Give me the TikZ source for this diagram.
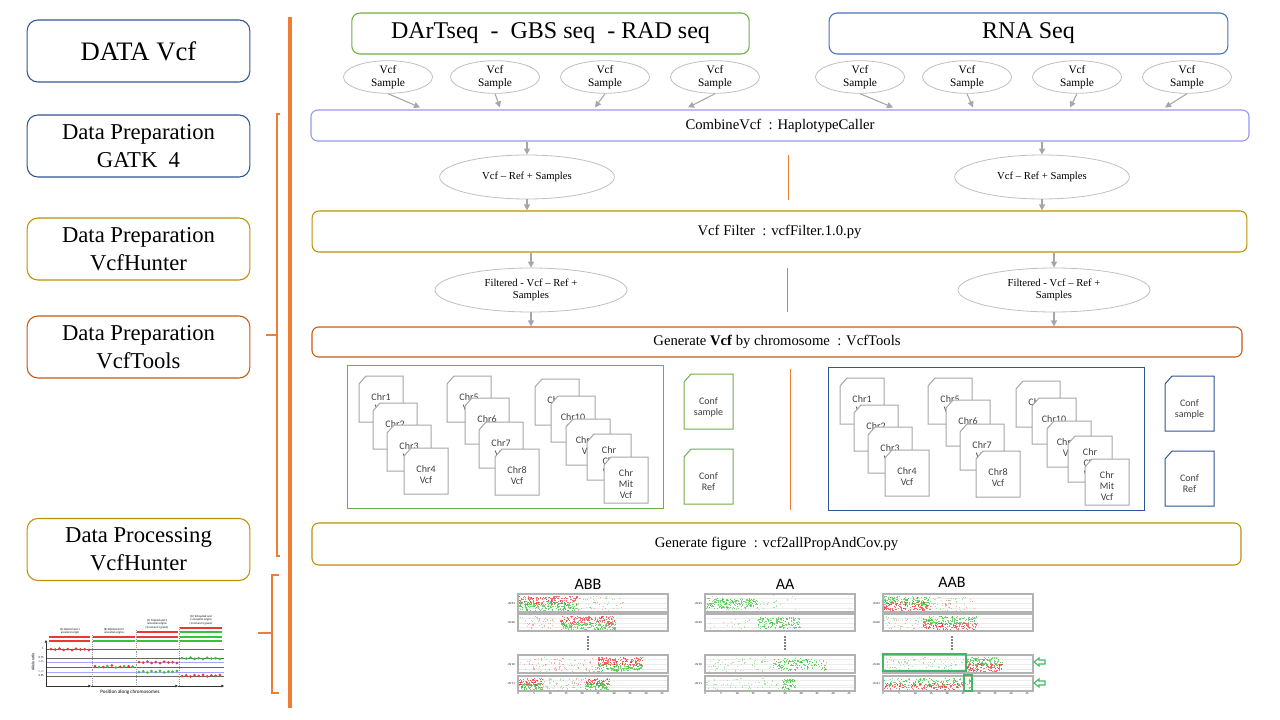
\documentclass[tikz,border=0pt]{standalone}
\usepackage{fontspec}
\setmainfont{Liberation Serif}
\newfontfamily\calib{Carlito}
\usetikzlibrary{shapes.geometric,arrows.meta,calc}
\definecolor{blueD}{HTML}{2F5597}
\definecolor{blueL}{HTML}{4472C4}
\definecolor{goldB}{HTML}{BF9000}
\definecolor{orangeB}{HTML}{C55A11}
\definecolor{orangeL}{HTML}{ED7D31}
\definecolor{greenP}{HTML}{70AD47}
\definecolor{lilac}{RGB}{150,150,245}
\definecolor{grayA}{HTML}{A6A6A6}
\definecolor{grayE}{HTML}{BFBFBF}
\definecolor{dotR}{RGB}{235,55,55}
\definecolor{dotG}{RGB}{55,195,55}
\definecolor{hlgreen}{RGB}{70,180,100}

% random points in a box
\newcommand{\spray}[6]{%
  \foreach \k in {1,...,#6}{%
    \pgfmathsetmacro\sx{#1+rnd*(#2-#1)}%
    \pgfmathsetmacro\sy{#3+rnd*(#4-#3)}%
    \fill[#5, opacity=0.7] (\sx,\sy) rectangle ++(1.1,1.1);
    \pgfmathsetmacro\sx{#1+rnd*(#2-#1)}%
    \pgfmathsetmacro\sy{#3+rnd*(#4-#3)}%
    \fill[#5, opacity=0.7] (\sx,\sy) rectangle ++(1.1,1.1);}}

\begin{document}
\begin{tikzpicture}[x=0.75pt, y=-0.75pt,
    stage/.style={draw, line width=0.8pt, rounded corners=8pt, minimum width=167pt, minimum height=46.5pt, align=center, inner sep=0pt, font=\fontsize{17}{21}\selectfont},
    source/.style={draw, line width=0.8pt, rounded corners=6pt, minimum width=298pt, minimum height=30.75pt, inner sep=0pt, font=\fontsize{18}{20}\selectfont},
    sample/.style={ellipse, draw=grayE, line width=0.6pt, minimum width=66.75pt, minimum height=24pt, inner sep=0pt, align=center, font=\fontsize{8.5}{9.5}\selectfont},
    merged/.style={sample, minimum width=131pt, minimum height=33pt, font=\fontsize{8}{9.5}\selectfont},
    filtered/.style={merged, minimum width=144pt},
    toolbox/.style={draw, line width=0.8pt, rounded corners=5pt, inner sep=0pt, font=\fontsize{11}{13}\selectfont},
    arr/.style={draw=grayA, line width=0.8pt, -{Triangle[length=4.5pt,width=4.5pt]}},
    chrfile/.style={draw=grayA, fill=white, line width=0.75pt},
    chrtext/.style={inner sep=0pt, align=center, text=black!75, font=\calib\fontsize{7.5}{8.3}\selectfont},
    panel/.style={draw, line width=0.8pt, minimum width=236.5pt, minimum height=107pt, inner sep=0pt},
    plotframe/.style={draw=black!30, line width=0.9pt},
    figtext/.style={inner sep=0pt, align=center, font=\calib\fontsize{2.2}{2.6}\selectfont},
    ptitle/.style={inner sep=0pt, font=\calib\fontsize{12}{14}\selectfont}]
\useasboundingbox (0,0) rectangle (1280,720);
\pgfmathsetseed{11}

% stages
\node[stage, draw=blueD, font=\fontsize{20}{22}\selectfont] (datavcf) at (138.5,51) {DATA Vcf};
\node[stage, draw=blueD] (gatk) at (138.5,146) {Data Preparation\\GATK~~4};
\node[stage, draw=goldB] (hunter) at (138.5,249) {Data Preparation\\VcfHunter};
\node[stage, draw=orangeB] (vcftools) at (138.5,347) {Data Preparation\\VcfTools};
\node[stage, draw=goldB] (processing) at (138.5,549.5) {Data Processing\\VcfHunter};

\draw[orangeL, line width=2.3pt] (290,17) -- (290,708);
\draw[orangeL, line width=1pt] (280,114) -- (277,114) -- (277,556) -- (280,556) (277,335) -- (266,335);
\draw[orangeL, line width=1pt] (279,575) -- (272,575) -- (272,693) -- (279,693) (272,633) -- (258,633);

% sources and samples
\node[source, draw=greenP] (dart) at (550.5,33.5) {DArTseq~~-~~GBS seq~~- RAD seq};
\node[source, draw=blueL, minimum width=299pt] (rna) at (1028.5,33.5) {RNA Seq};
\node[toolbox, draw=lilac, minimum width=703.5pt, minimum height=23.25pt] (combine) at (780,125.5) {CombineVcf~~: HaplotypeCaller};
\foreach \i/\x/\dx in {1/388/32, 2/495/5, 3/605/-10, 4/715/-27}{
  \node[sample] (ls\i) at (\x,77) {Vcf\\Sample};
  \draw[arr] (ls\i.south) -- ($(ls\i.south |- combine.north)+(\dx,-2)$);
}
\foreach \i/\x/\dx in {1/860/33, 2/967/6, 3/1077/-7, 4/1187/-22}{
  \node[sample] (rs\i) at (\x,77) {Vcf\\Sample};
  \draw[arr] (rs\i.south) -- ($(rs\i.south |- combine.north)+(\dx,-2)$);
}

% filtering
\node[merged] (lmerge) at (527,177) {Vcf – Ref + Samples};
\node[merged] (rmerge) at (1042,177) {Vcf – Ref + Samples};
\node[toolbox, draw=goldB, minimum width=701pt, minimum height=30.75pt] (filter) at (779.5,231.5) {Vcf Filter~~: vcfFilter.1.0.py};
\node[filtered] (lfilt) at (531,290) {Filtered - Vcf – Ref +\\Samples};
\node[filtered] (rfilt) at (1054,290) {Filtered - Vcf – Ref +\\Samples};
\node[toolbox, draw=orangeB, minimum width=697.5pt, minimum height=22.5pt] (bychr) at (777,342) {Generate \textbf{Vcf} by chromosome~~: VcfTools};
\node[toolbox, draw=goldB, minimum width=696.75pt, minimum height=31.5pt] (figure) at (776.5,544) {Generate figure~~: vcf2allPropAndCov.py};
\foreach \s in {l,r}{
  \draw[arr] (combine.south -| \s merge) -- (\s merge.north);
  \draw[arr] (\s merge.south) -- (filter.north -| \s merge.south);
  \draw[arr] (filter.south -| \s filt) -- (\s filt.north);
  \draw[arr] (\s filt.south) -- (bychr.north -| \s filt.south);
}
\draw[orangeL, line width=0.75pt] (788,155) -- (788,200) (787,268) -- (787,312) (790,369) -- (790,510);

% vcf by chromosome
\foreach \s/\dx/\dy/\c in {l/0/0/greenP, r/481/2/blueD}{
  \node[panel, draw=\c] (\s-panel) at (505.5+\dx,437+\dy) {};
  \foreach \n/\x/\y/\t [evaluate=\x as \px using \x+\dx, evaluate=\y as \py using \y+\dy] in
    {1/359/376/{Chr1\\Vcf}, 2/373/403/{Chr2\\Vcf}, 3/387/425/{Chr3\\Vcf}, 4/404/448/{Chr4\\Vcf},
     5/447/376/{Chr5\\Vcf}, 6/465/398/{Chr6\\Vcf}, 7/479/422/{Chr7\\Vcf}, 8/495/449/{Chr8\\Vcf},
     9/535/379/{Chr9\\Vcf}, 10/551/396/{Chr10\\Vcf}, 11/566/419/{Chr11\\Vcf},
     12/587/434/{Chr\\Chl\\Vcf}, 13/604/457/{Chr\\Mit\\Vcf}}{
    \filldraw[chrfile] (\px+7,\py) -- (\px+44,\py) -- (\px+44,\py+46) -- (\px,\py+46) -- (\px,\py+8) -- cycle;
    \node[chrtext] (\s-chr\n) at (\px+22,\py+27) {\t};
  }
  \foreach \m/\y/\t [evaluate=\y as \py using \y+\dy] in {s/374/{Conf\\sample}, r/449/{Conf\\Ref}}{
    \filldraw[chrfile, draw=\c] (684+\dx+7,\py) -- (733+\dx,\py) -- (733+\dx,\py+55) -- (684+\dx,\py+55) -- (684+\dx,\py+8) -- cycle;
    \node[chrtext] (\s-conf\m) at (708.5+\dx,\py+33) {\t};
  }
}

% allele ratio figures
\node[ptitle] (tabb) at (588,584) {ABB};
\node[ptitle] (taa) at (785,584) {AA};
\node[ptitle] (taab) at (952,582) {AAB};
\foreach \px in {518,705,883}{
  \foreach \ya/\yb in {594/612, 614/631, 655/673, 676/691}
    \draw[black!7, line width=0.3pt] (\px,\ya+4.5) -- (\px+150,\ya+4.5) (\px,\ya+9) -- (\px+150,\ya+9) (\px,\yb-4) -- (\px+150,\yb-4);
  \foreach \y/\t in {603/chr01, 622.5/chr02, 664/chr10, 683.5/chr11}
    \node[figtext, anchor=east] (lab\px\t) at (\px-3,\y) {\t};
  \foreach \j in {0,...,9}{
    \pgfmathtruncatemacro\v{5*\j}
    \node[figtext] (tick\px-\j) at (\px+\j*16,694) {\v};
  }
}
\spray{518}{577}{596}{605}{dotR}{90} \spray{518}{577}{602}{610}{dotG}{90}
\spray{577}{623}{596}{610}{dotR!60}{15} \spray{577}{623}{596}{610}{dotG!60}{10}
\spray{518}{560}{616}{629}{dotR!60}{12} \spray{518}{560}{616}{629}{dotG!60}{8}
\spray{560}{615}{616}{624}{dotR}{80} \spray{560}{615}{622}{629}{dotG}{80}
\spray{518}{597}{657}{671}{dotR!60}{25} \spray{518}{597}{657}{671}{dotG!60}{20}
\spray{597}{642}{657}{665}{dotR}{80} \spray{597}{642}{663}{671}{dotG}{70}
\spray{518}{542}{678}{685}{dotR}{40} \spray{518}{542}{683}{689}{dotG}{40}
\spray{542}{585}{678}{689}{dotR!60}{15} \spray{542}{585}{678}{689}{dotG!60}{15}
\spray{585}{609}{678}{685}{dotR}{40} \spray{585}{609}{683}{689}{dotG}{40}
\spray{705}{757}{598}{608}{dotG}{90} \spray{705}{797}{595}{610}{dotG!60}{25}
\spray{705}{758}{616}{629}{dotG!60}{10} \spray{758}{800}{617}{628}{dotG}{80}
\spray{705}{773}{657}{671}{dotG!60}{30} \spray{773}{827}{658}{670}{dotG}{80}
\spray{705}{782}{677}{689}{dotG!60}{25} \spray{782}{795}{679}{689}{dotG}{30}
\spray{883}{930}{596}{605}{dotG}{80} \spray{883}{930}{602}{610}{dotR}{70}
\spray{930}{975}{596}{610}{dotG!60}{15} \spray{930}{975}{596}{610}{dotR!60}{15}
\spray{883}{923}{616}{629}{dotG!60}{10} \spray{883}{923}{616}{629}{dotR!60}{10}
\spray{923}{977}{616}{624}{dotG}{70} \spray{923}{977}{622}{629}{dotR}{70}
\spray{883}{965}{657}{671}{dotG!60}{35} \spray{883}{965}{657}{671}{dotR!60}{8}
\spray{965}{1002}{657}{665}{dotG}{60} \spray{965}{1002}{663}{671}{dotR}{60}
\spray{883}{964}{678}{685}{dotG}{70} \spray{883}{964}{683}{689}{dotR}{70}
\spray{964}{972}{678}{689}{dotG}{8}
\foreach \px in {518,705,883}
  \foreach \ya/\yb in {594/612, 614/631, 655/673, 676/691}
    \draw[plotframe] (\px,\ya) rectangle (\px+150,\yb);
\foreach \x in {588,785,952}
  \foreach \y in {637,640,643,646,649}
    \fill (\x,\y) circle (0.9);
\draw[hlgreen, line width=1pt] (883,654) rectangle (966,671) (964,675) rectangle (972,691);
\foreach \y in {662,683}
  \draw[hlgreen, line width=0.8pt] (1034,\y) -- (1039,\y-4) -- (1039,\y-2) -- (1045,\y-2) -- (1045,\y+2) -- (1039,\y+2) -- (1039,\y+4) -- cycle;

% ploidy sketch
\foreach \y/\c in {649/black!60, 658/black!60, 662/blue!35, 667/black!60, 672/blue!35, 676/black!60}
  \draw[\c, line width=0.5pt] (46,\y) -- (224,\y);
\foreach \x/\t in {92/635, 136/630, 179/627}
  \draw[black!40, densely dotted, line width=0.4pt] (\x,\t) -- (\x,686);
\draw[black!80, line width=0.5pt, -{Triangle[length=2pt,width=2pt]}] (46,686) -- (46,640);
\foreach \a/\b in {46/91, 91/178, 178/224}
  \draw[black!80, line width=0.5pt, -{Triangle[length=2pt,width=2pt]}] (\a,686) -- (\b,686);
\foreach \a/\b/\y/\c in {49/90/637/dotR, 49/90/641/dotR, 93/135/637/dotR, 93/135/641/dotG,
    137/178/632/dotR, 137/178/637/dotR, 137/178/641/dotG,
    180/222/628/dotR, 180/222/632/dotG, 180/222/637/dotG, 180/222/641/dotG}
  \draw[\c, line width=1.3pt] (\a,\y) -- (\b,\y);
\foreach \i/\j in {0/0, 1/0.6, 2/-0.4, 3/0.9, 4/0.1, 5/1.2, 6/-0.3, 7/0.5, 8/0.2, 9/1}{
  \fill[dotR] (51+\i*4.2,649+\j) circle (1.5);
  \fill[dotR] (139+\i*4.2,662+\j) circle (1.5);
  \fill[dotG] (139+\i*4.2,672-\j) circle (1.5);
  \fill[dotG] (182+\i*4.2,658+\j) circle (1.5);
  \fill[dotR] (182+\i*4.2,676-\j) circle (1.5);
}
\foreach \i/\j in {0/0, 1/1, 2/-0.5, 3/0.8, 4/0.3}{
  \fill[dotR] (95+\i*8.4,666+\j) circle (1.5);
  \fill[dotG] (99+\i*8.4,667-\j) circle (1.5);
}
\node[figtext] (fa) at (70,631) {(A) Diploid and 1\\ancestral origin};
\node[figtext] (fb) at (114,631) {(B) Diploid and 2\\ancestral origins};
\node[figtext] (fc) at (157,624) {(C) Triploid and 2\\ancestral origins\\(2 red and 1 green)};
\node[figtext] (fd) at (201,620) {(D) Tetraploid and\\2 ancestral origins\\(1 red and 3 green)};
\foreach \y/\t/\c in {649/1/black, 658/0.75/black, 662/0.66/blue!60, 672/0.33/blue!60, 676/0.25/black}
  \node[figtext, anchor=east, text=\c] (fy\y) at (44,\y) {\t};
\node[figtext, rotate=90, font=\calib\fontsize{3}{3.5}\selectfont] (fylab) at (33,662) {Allele ratio};
\node[figtext, font=\calib\fontsize{3.8}{4.5}\selectfont] (fxlab) at (130,692) {Position along chromosomes};
\end{tikzpicture}
\end{document}
